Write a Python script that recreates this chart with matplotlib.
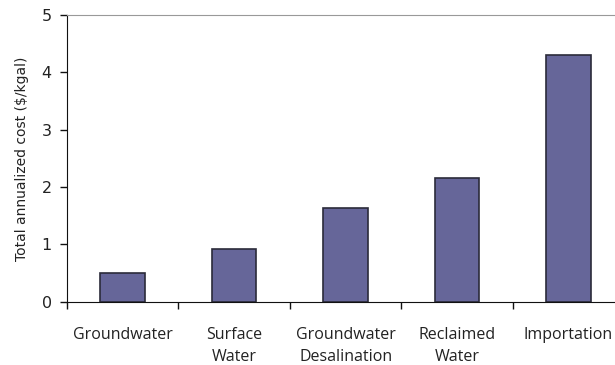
import matplotlib.pyplot as plt
import numpy as np

categories = ["Groundwater", "Surface\nWater", "Groundwater\nDesalination",
              "Reclaimed\nWater", "Importation"]
costs = [0.50, 0.92, 1.64, 2.16, 4.30]
yticks = [0, 1, 2, 3, 4, 5]

fig = plt.figure(figsize=(6.15, 3.65), dpi=100)
ax = fig.add_axes([0.109, 0.173, 0.906, 0.786])

x = np.arange(len(categories))
ax.bar(x, costs, width=0.4, color="#666699", edgecolor="#2b2b3a", linewidth=1.2)

ax.set_xlim(-0.5, len(categories) - 0.5)
ax.set_ylim(0, 5)
ax.set_yticks(yticks)
ax.set_xticks(x)
ax.set_xticklabels(categories, family="Open Sans", fontsize=11.5, color="#222222",
                   linespacing=1.5, va="top")
ax.set_xticks(np.arange(len(categories) + 1) - 0.5, minor=True)
ax.tick_params(axis="x", which="major", length=0, pad=18)
ax.tick_params(axis="x", which="minor", length=5, width=1, direction="out", color="#111111")
ax.tick_params(axis="y", length=5, width=1, direction="out", labelsize=11.5, pad=6,
               color="#111111", labelcolor="#222222")
ax.set_ylabel("Total annualized cost ($/kgal)", fontsize=10, color="#222222", labelpad=9)

ax.spines["left"].set_color("#111111")
ax.spines["bottom"].set_color("#111111")
ax.spines["top"].set_color("#999999")
ax.spines["right"].set_color("#999999")

fig.savefig("out.png", dpi=100)
